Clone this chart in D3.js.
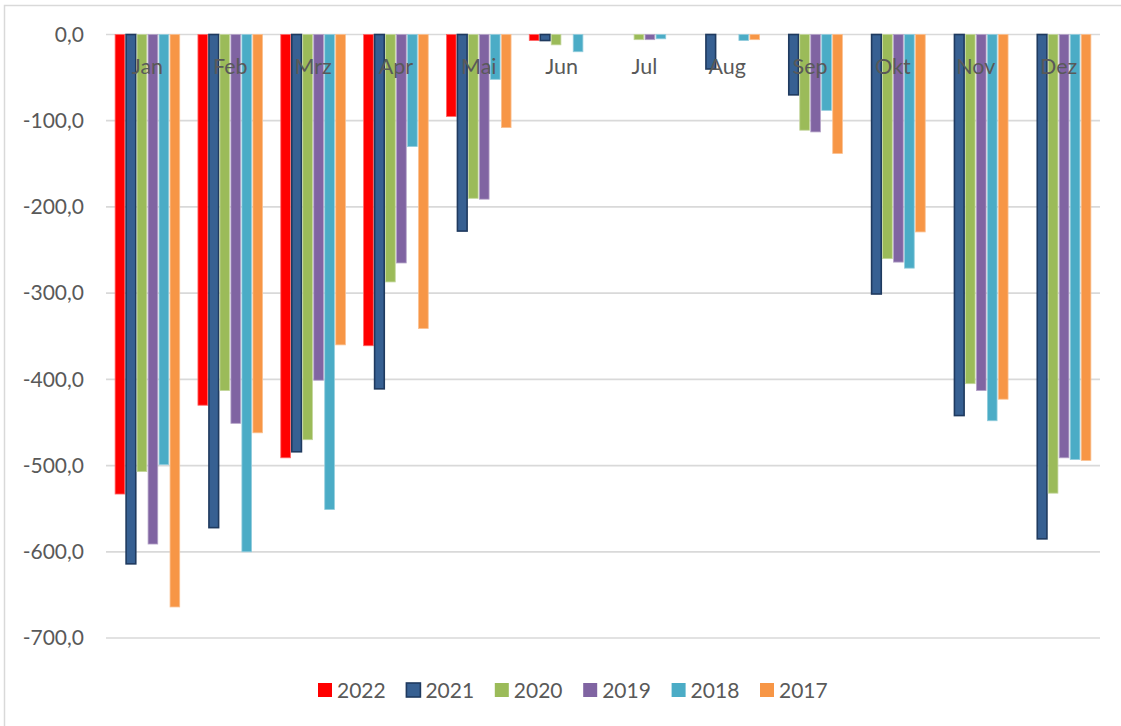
<!DOCTYPE html>
<html>
<head>
<meta charset="utf-8">
<script src="https://cdn.jsdelivr.net/npm/d3@7"></script>
<style>
  html, body { margin: 0; padding: 0; background: #fff; }
  svg { display: block; }
</style>
</head>
<body>
<svg id="chart" width="1121" height="726"></svg>
<script>
const months = ["Jan","Feb","Mrz","Apr","Mai","Jun","Jul","Aug","Sep","Okt","Nov","Dez"];
const years = ["2022","2021","2020","2019","2018","2017"];
const v2022 = [-533, -430, -491, -361, -95, -7, null, null, null, null, null, null];
const v2021 = [-614, -572, -484, -411, -228, -7, null, -40, -70, -301, -442, -585];
const v2020 = [-507, -413, -470, -287, -190, -12, -6, null, -111, -260, -405, -532];
const v2019 = [-591, -451, -401, -265, -191, null, -6, null, -113, -264, -413, -491];
const v2018 = [-499, -600, -551, -130, -52, -20, -5, -7, -88, -271, -448, -493];
const v2017 = [-664, -462, -360, -341, -108, null, null, -6, -138, -229, -423, -494];
const yTicks = [0, -100, -200, -300, -400, -500, -600, -700];

const seriesValues = [v2022, v2021, v2020, v2019, v2018, v2017];
const fills   = ["#FF0000", "#376092", "#9BBB59", "#8064A2", "#4BACC6", "#F79646"];
const strokes = ["#FF6666", "#1F3A5F", "#C3D69B", "#B3A2C7", "#93CDDD", "#FAC090"];
const strokeW = [0.8, 1.6, 0.8, 0.8, 0.8, 0.8];

const svg = d3.select("#chart");
const fontFamily = "Lato, 'Open Sans', sans-serif";
const textColor = "#595959";
const gridColor = "#D9D9D9";

// outer chart border
svg.append("rect")
  .attr("x", 4.5).attr("y", 5.5)
  .attr("width", 1130).attr("height", 740)
  .attr("fill", "none").attr("stroke", gridColor).attr("stroke-width", 1.5);

const plot = { left: 106, right: 1100, top: 34.5, bottom: 638 };

const y = d3.scaleLinear().domain([-700, 0]).range([plot.bottom, plot.top]);
const x0 = d3.scaleBand().domain(months).range([plot.left, plot.right]).paddingInner(0).paddingOuter(0);
const clusterW = x0.bandwidth() * 0.78;
const off = (x0.bandwidth() - clusterW) / 2;
const x1 = d3.scaleBand().domain(years).range([off, off + clusterW]).paddingInner(0.12).paddingOuter(0);

const locale = d3.formatLocale({ decimal: ",", thousands: ".", grouping: [3], currency: ["", "€"], minus: "-" });
const fmt = locale.format(".1f");

// gridlines
svg.append("g").selectAll("line").data(yTicks).join("line")
  .attr("x1", plot.left).attr("x2", plot.right)
  .attr("y1", d => y(d)).attr("y2", d => y(d))
  .attr("stroke", gridColor).attr("stroke-width", 1.7);

// y axis labels via d3 axis
const yAxis = d3.axisLeft(y).tickValues(yTicks).tickFormat(fmt).tickSize(0).tickPadding(0);
const gy = svg.append("g").attr("transform", "translate(84,0)").call(yAxis);
gy.select(".domain").remove();
gy.selectAll("text")
  .attr("fill", textColor)
  .style("font-family", fontFamily)
  .style("font-size", "21px");

// bars
const data = [];
months.forEach((m, i) => {
  years.forEach((yr, s) => {
    const v = seriesValues[s][i];
    if (v !== null && v !== 0) data.push({ m, yr, s, v });
  });
});

svg.append("g").selectAll("rect").data(data).join("rect")
  .attr("x", d => x0(d.m) + x1(d.yr))
  .attr("y", d => y(0))
  .attr("width", x1.bandwidth())
  .attr("height", d => y(d.v) - y(0))
  .attr("fill", d => fills[d.s])
  .attr("stroke", d => strokes[d.s])
  .attr("stroke-width", d => strokeW[d.s]);

// month labels (category axis, drawn over bars)
const xAxis = d3.axisTop(x0).tickSize(0).tickPadding(0);
const gx = svg.append("g").attr("transform", "translate(0,74)").call(xAxis);
gx.select(".domain").remove();
gx.selectAll("text")
  .attr("fill", textColor)
  .attr("dy", 0)
  .style("font-family", fontFamily)
  .style("font-size", "21.5px");

// legend
const legend = svg.append("g");
years.forEach((yr, s) => {
  const lx = 318 + s * 88.4;
  legend.append("rect")
    .attr("x", lx).attr("y", 683)
    .attr("width", 14).attr("height", 14)
    .attr("fill", fills[s])
    .attr("stroke", s === 1 ? strokes[s] : "none")
    .attr("stroke-width", 1.6);
  legend.append("text")
    .attr("x", lx + 19).attr("y", 698)
    .attr("fill", textColor)
    .style("font-family", fontFamily)
    .style("font-size", "21px")
    .text(yr);
});
</script>
</body>
</html>
